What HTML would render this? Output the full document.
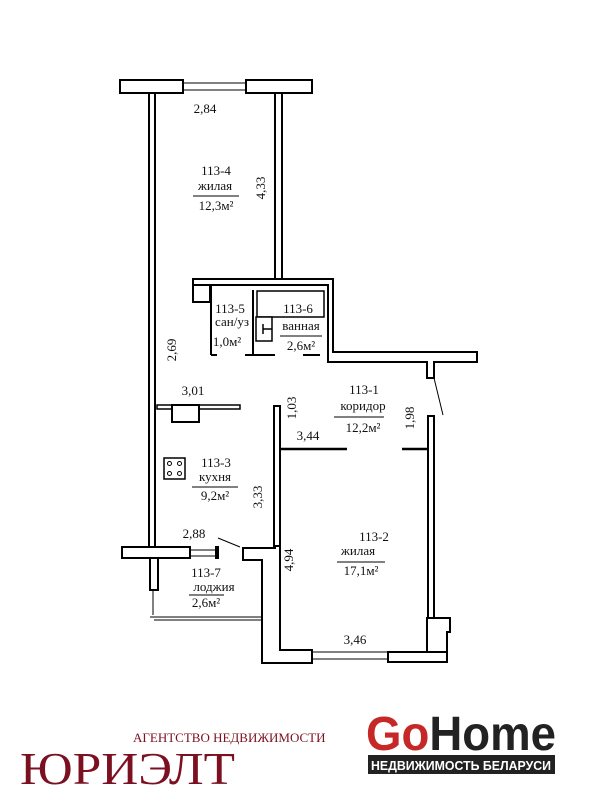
<!DOCTYPE html>
<html><head><meta charset="utf-8"><style>
html,body{margin:0;padding:0;background:#fff;width:600px;height:800px;overflow:hidden}
svg{display:block}
text{font-family:"Liberation Serif",serif;fill:#111}
</style></head><body>
<svg width="600" height="800" viewBox="0 0 600 800" xmlns="http://www.w3.org/2000/svg">
<g fill="#fff" stroke="#000" stroke-width="2">
<rect x="120" y="80" width="63" height="13"/>
<rect x="246" y="80" width="66" height="13"/>
<line x1="183" y1="83" x2="246" y2="83" stroke-width="1"/>
<line x1="183" y1="90" x2="246" y2="90" stroke-width="1"/>
<rect x="149" y="93" width="6" height="455"/>
<rect x="275" y="93" width="7" height="186"/>
<path d="M193 279 H333 V352 H477 V362 H434 V378 H427 V362 H328 V285 H193 Z"/>
<rect x="193" y="285" width="17" height="17"/>
<line x1="211" y1="285" x2="211" y2="355"/>
<line x1="211" y1="355" x2="217" y2="355"/>
<line x1="253" y1="290" x2="253" y2="355"/>
<line x1="245" y1="355" x2="275" y2="355"/>
<line x1="303" y1="355" x2="320" y2="355"/>
<rect x="257" y="291" width="67" height="26" stroke-width="1.5"/>
<rect x="256" y="317" width="16" height="24" stroke-width="1.5"/>
<line x1="263" y1="329" x2="272" y2="329" stroke-width="1.5"/>
<line x1="263" y1="324" x2="263" y2="334" stroke-width="1.5"/>
<line x1="434" y1="378" x2="443" y2="415" stroke-width="1"/>
<path d="M428 416 H434 V618 H428 Z"/>
<path d="M427 618 H450 V632 H447 V660 H427 Z"/>
<rect x="157" y="405" width="83" height="4" stroke-width="1.5"/>
<rect x="172" y="405" width="27" height="17"/>
<rect x="164" y="458" width="21" height="21" stroke-width="1.5"/>
<circle cx="169.5" cy="463.5" r="2" stroke-width="1"/><circle cx="179.5" cy="463.5" r="2" stroke-width="1"/>
<circle cx="169.5" cy="473.5" r="2" stroke-width="1"/><circle cx="179.5" cy="473.5" r="2" stroke-width="1"/>
<rect x="274" y="406" width="6" height="140"/>
<line x1="280" y1="449" x2="347" y2="449" stroke-width="2.5"/>
<line x1="402" y1="449" x2="428" y2="449" stroke-width="2.5"/>
<rect x="122" y="547" width="68" height="11"/>
<line x1="190" y1="550" x2="216" y2="550" stroke-width="1"/>
<line x1="190" y1="556" x2="216" y2="556" stroke-width="1"/>
<rect x="216" y="547" width="2" height="11" fill="#000"/>
<rect x="150" y="558" width="8" height="32"/>
<line x1="153" y1="590" x2="153" y2="615" stroke-width="1"/>
<line x1="150" y1="617" x2="262" y2="617" stroke-width="1"/>
<line x1="154" y1="620" x2="262" y2="620" stroke-width="1"/>
<line x1="218" y1="538" x2="240" y2="547" stroke-width="1"/>
<path d="M243 548 H275 V546 H280 V650 H312 V663 H262 V560 H243 Z"/>
<line x1="312" y1="652" x2="388" y2="652" stroke-width="1"/>
<line x1="312" y1="659" x2="388" y2="659" stroke-width="1"/>
<rect x="388" y="652" width="59" height="10"/>
</g>
<g font-size="13" text-anchor="middle">
<text x="205" y="113">2,84</text>
<text x="216" y="175">113-4</text>
<text x="215" y="190">жилая</text>
<line x1="193" y1="196" x2="239" y2="196" stroke="#000"/>
<text x="216" y="210">12,3м²</text>
<text x="265" y="188" transform="rotate(-90 265 188)">4,33</text>
<text x="230" y="313">113-5</text>
<text x="232" y="326">сан/уз</text>
<text x="227" y="346">1,0м²</text>
<text x="298" y="313">113-6</text>
<text x="301" y="330">ванная</text>
<line x1="280" y1="336" x2="322" y2="336" stroke="#000"/>
<text x="301" y="350">2,6м²</text>
<text x="176" y="350" transform="rotate(-90 176 350)">2,69</text>
<text x="193" y="395">3,01</text>
<text x="364" y="394">113-1</text>
<text x="363" y="410">коридор</text>
<line x1="334" y1="417" x2="384" y2="417" stroke="#000"/>
<text x="363" y="432">12,2м²</text>
<text x="296" y="408" transform="rotate(-90 296 408)">1,03</text>
<text x="414" y="418" transform="rotate(-90 414 418)">1,98</text>
<text x="308" y="440">3,44</text>
<text x="216" y="467">113-3</text>
<text x="215" y="481">кухня</text>
<line x1="192" y1="487" x2="238" y2="487" stroke="#000"/>
<text x="215" y="500">9,2м²</text>
<text x="262" y="497" transform="rotate(-90 262 497)">3,33</text>
<text x="194" y="538">2,88</text>
<text x="374" y="541">113-2</text>
<text x="358" y="555">жилая</text>
<line x1="337" y1="562" x2="385" y2="562" stroke="#000"/>
<text x="361" y="575">17,1м²</text>
<text x="293" y="560" transform="rotate(-90 293 560)">4,94</text>
<text x="206" y="577">113-7</text>
<text x="214" y="591">лоджия</text>
<line x1="189" y1="595" x2="224" y2="595" stroke="#000"/>
<text x="206" y="607">2,6м²</text>
<text x="355" y="644">3,46</text>
</g>
<text x="133" y="742" font-size="13" style="fill:#7a1020">АГЕНТСТВО НЕДВИЖИМОСТИ</text>
<text x="20" y="784" font-size="46" style="fill:#7a1020" textLength="215" lengthAdjust="spacingAndGlyphs">ЮРИЭЛТ</text>
<text x="366" y="750" style="font-family:'Liberation Sans',sans-serif;font-weight:bold;font-size:48px" textLength="190" lengthAdjust="spacingAndGlyphs"><tspan style="fill:#c62828">Go</tspan><tspan style="fill:#222">Home</tspan></text>
<rect x="368" y="755" width="187" height="19" fill="#222"/>
<text x="461" y="770" text-anchor="middle" style="font-family:'Liberation Sans',sans-serif;font-weight:bold;font-size:13px;fill:#fff" textLength="180" lengthAdjust="spacingAndGlyphs">НЕДВИЖИМОСТЬ БЕЛАРУСИ</text>
</svg>
</body></html>
